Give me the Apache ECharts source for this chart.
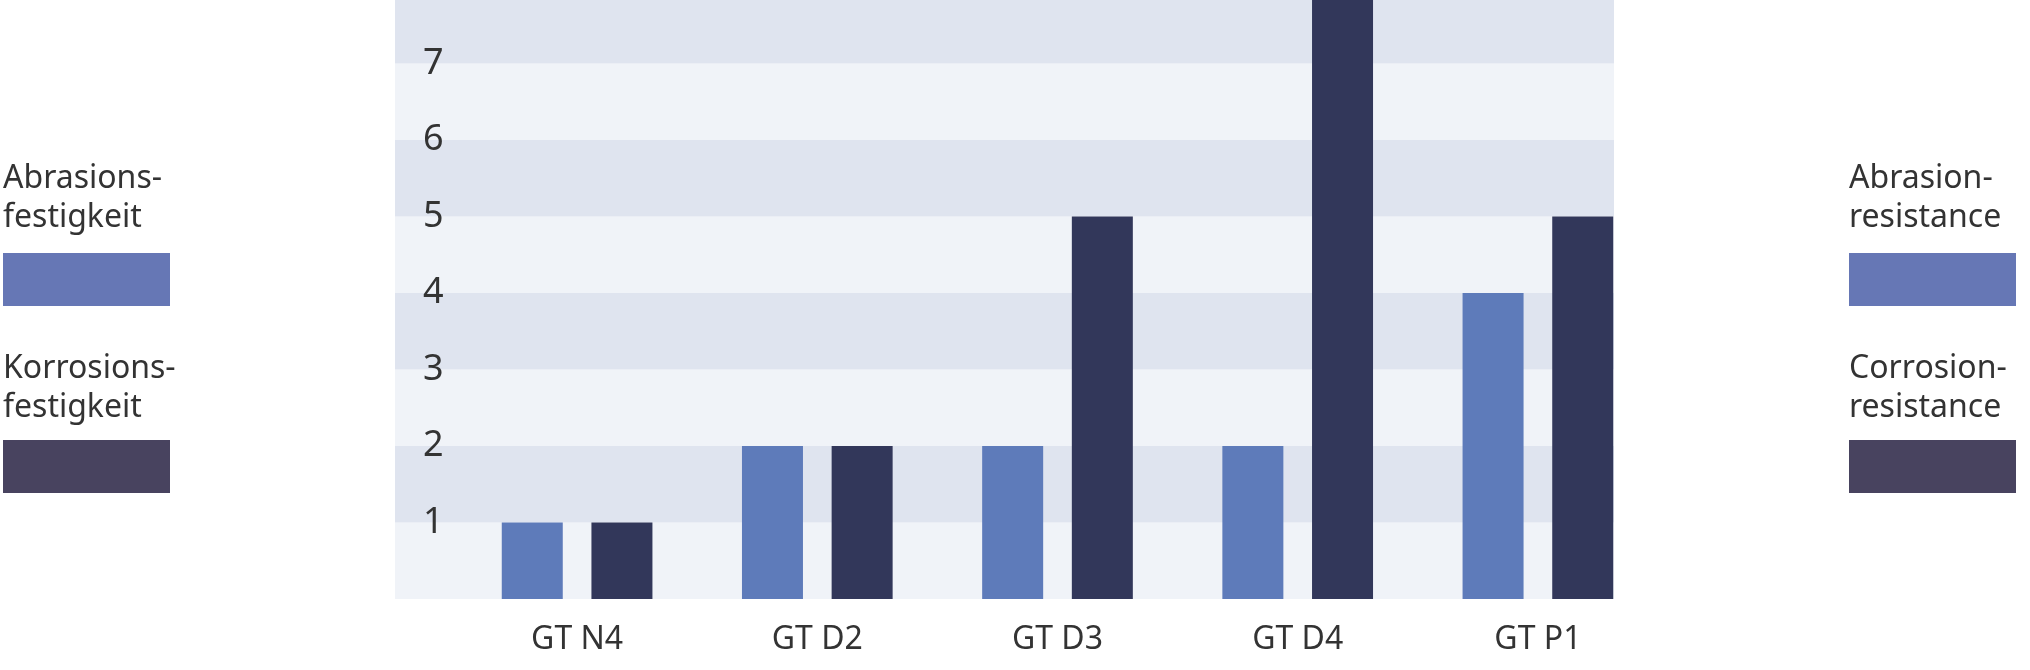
<!DOCTYPE html>
<html>
<head>
<meta charset="utf-8">
<script src="https://cdn.jsdelivr.net/npm/echarts@6/dist/echarts.min.js"></script>
<style>
html,body{margin:0;padding:0;background:#fff;}
#chart{width:2030px;height:670px;}
</style>
</head>
<body>
<div id="chart"></div>
<script>
const categories = ['GT N4', 'GT D2', 'GT D3', 'GT D4', 'GT P1'];
const abrasion = [1, 2, 2, 2, 4];
const corrosion = [1, 2, 5, 8, 5];
const yMin = 0;
const yMax = 7.83;
const yInterval = 1;
const legendLeft = ['Abrasions-\nfestigkeit', 'Korrosions-\nfestigkeit'];
const legendRight = ['Abrasion-\nresistance', 'Corrosion-\nresistance'];

const FONT = '"Noto Sans", "Open Sans", sans-serif';
const TEXT = '#333333';
const BLUE = '#5e7bba';
const DARK = '#32375a';
const LEG_BLUE = '#6677b5';
const LEG_DARK = '#48435f';

const chart = echarts.init(document.getElementById('chart'), null, {renderer: 'canvas'});

function legendText(x, y, txt) {
  return {
    type: 'text', left: x, top: y, silent: true,
    style: {text: txt, font: '32px ' + FONT, fill: TEXT, lineHeight: 39}
  };
}
function legendRect(x, y, color) {
  return {
    type: 'rect', left: x, top: y, silent: true,
    shape: {width: 167, height: 53},
    style: {fill: color}
  };
}

const option = {
  backgroundColor: '#ffffff',
  animation: false,
  textStyle: {fontFamily: FONT},
  grid: [
    {left: 395, right: 416, top: 0, bottom: 71, containLabel: false},
    {left: 457, right: 372, top: 0, bottom: 71, containLabel: false}
  ],
  xAxis: [
    {type: 'category', gridIndex: 0, data: [''], show: false},
    {
      type: 'category', gridIndex: 1, data: categories,
      axisLine: {show: false}, axisTick: {show: false},
      axisLabel: {fontSize: 32, color: TEXT, margin: 25, fontFamily: FONT},
      splitLine: {show: false}
    }
  ],
  yAxis: [
    {
      type: 'value', gridIndex: 0, min: yMin, max: yMax, interval: yInterval,
      axisLine: {show: false}, axisTick: {show: false},
      splitLine: {show: false},
      splitArea: {show: true, areaStyle: {color: ['#f0f3f8', '#dfe4ef']}},
      axisLabel: {
        inside: true, margin: 28, fontSize: 36, color: TEXT, fontFamily: FONT,
        padding: [0, 0, 24, 0],
        formatter: v => (v === 0 || Math.round(v) !== v) ? '' : String(v)
      },
      z: 0
    },
    {
      type: 'value', gridIndex: 1, min: yMin, max: yMax, interval: yInterval,
      show: false, splitLine: {show: false}
    }
  ],
  series: [
    {
      name: 'Abrasion', type: 'bar', xAxisIndex: 1, yAxisIndex: 1,
      data: abrasion, barWidth: 61, barGap: '47%', clip: true,
      itemStyle: {color: BLUE}, z: 3
    },
    {
      name: 'Corrosion', type: 'bar', xAxisIndex: 1, yAxisIndex: 1,
      data: corrosion, barWidth: 61, barGap: '47%', clip: true,
      itemStyle: {color: DARK}, z: 3
    }
  ],
  graphic: [
    legendText(3, 159, legendLeft[0]),
    legendRect(3, 253, LEG_BLUE),
    legendText(3, 349, legendLeft[1]),
    legendRect(3, 440, LEG_DARK),
    legendText(1849, 159, legendRight[0]),
    legendRect(1849, 253, LEG_BLUE),
    legendText(1849, 349, legendRight[1]),
    legendRect(1849, 440, LEG_DARK)
  ]
};
chart.setOption(option);
</script>
</body>
</html>
